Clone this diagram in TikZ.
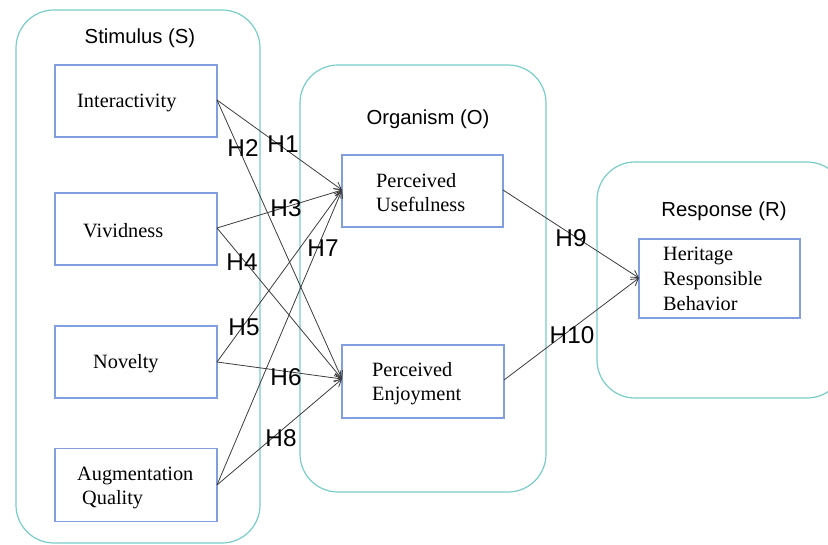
\documentclass[tikz,border=0pt]{standalone}
\usepackage{fontspec}
\setmainfont{Liberation Serif}
\newfontfamily\labfont{Liberation Sans}
\usetikzlibrary{arrows.meta}
\definecolor{contcol}{RGB}{120,205,200}
\definecolor{boxcol}{RGB}{128,158,224}
\definecolor{arrcol}{RGB}{60,60,60}
\tikzset{
  container/.style={draw=contcol, line width=1.2pt, rounded corners=38pt},
  varbox/.style={draw=boxcol, line width=1.1pt, rectangle, inner sep=0pt},
  boxtext/.style={anchor=west, align=left, inner sep=0pt, font=\fontsize{20.3}{25}\selectfont},
  title/.style={inner sep=0pt, font=\labfont\fontsize{20.3}{24}\selectfont},
  hlab/.style={inner sep=0pt, font=\labfont\fontsize{24.3}{26}\selectfont},
  rel/.style={draw=arrcol, line width=0.8pt, -{Straight Barb[length=7pt,width=8pt]}}
}
\begin{document}
\begin{tikzpicture}[x=1pt,y=-1pt]
\useasboundingbox (0,0) rectangle (828,545);
% containers
\draw[container] (16,10) rectangle (260,543);
\draw[container] (300,65) rectangle (546,492);
\draw[container] (597,162) rectangle (845,398);
% titles
\node[title] (tS) at (140,38) {Stimulus (S)};
\node[title] (tO) at (428,119) {Organism (O)};
\node[title] (tR) at (724,211) {Response (R)};
% variable boxes
\node[varbox, minimum width=162pt, minimum height=72pt] (int) at (136,101) {};
\node[varbox, minimum width=162pt, minimum height=72pt] (viv) at (136,229) {};
\node[varbox, minimum width=162pt, minimum height=72pt] (nov) at (136,362) {};
\node[varbox, minimum width=162pt, minimum height=73pt] (aug) at (136,485) {};
\node[varbox, minimum width=161pt, minimum height=72pt] (pu) at (422.5,191) {};
\node[varbox, minimum width=162pt, minimum height=73pt] (pe) at (423,381.5) {};
\node[varbox, minimum width=161pt, minimum height=79pt] (hrb) at (719.5,278.5) {};
% box texts
\node[boxtext] (intT) at (77,103) {Interactivity};
\node[boxtext] (vivT) at (83,231) {Vividness};
\node[boxtext] (novT) at (93,364) {Novelty};
\node[boxtext] (augT) at (77,488) {Augmentation\\[-1pt]\hspace*{5pt}Quality};
\node[boxtext] (puT) at (376,193) {Perceived\\[-1pt]Usefulness};
\node[boxtext] (peT) at (372,384) {Perceived\\[-1pt]Enjoyment};
\node[boxtext] (hrbT) at (663,279) {Heritage\\Responsible\\Behavior};
% anchor coordinates
\coordinate (intR) at (217,100);
\coordinate (vivR) at (217,228);
\coordinate (novR) at (217,362);
\coordinate (augR) at (217,485);
\coordinate (puL) at (342,190);
\coordinate (peL) at (342,379);
\coordinate (puR) at (503,190);
\coordinate (peR) at (504,380);
\coordinate (hrbL) at (639,278);
% relations
\draw[rel] (intR) -- (puL);
\draw[rel] (intR) -- (peL);
\draw[rel] (vivR) -- (puL);
\draw[rel] (vivR) -- (peL);
\draw[rel] (novR) -- (puL);
\draw[rel] (novR) -- (peL);
\draw[rel] (augR) -- (puL);
\draw[rel] (augR) -- (peL);
\draw[rel] (puR) -- (hrbL);
\draw[rel] (peR) -- (hrbL);
% hypothesis labels
\node[hlab] (h1) at (283,144) {H1};
\node[hlab] (h2) at (243,148) {H2};
\node[hlab] (h3) at (286,208) {H3};
\node[hlab] (h4) at (242,262) {H4};
\node[hlab] (h5) at (244,327) {H5};
\node[hlab] (h6) at (286,377) {H6};
\node[hlab] (h7) at (323,248) {H7};
\node[hlab] (h8) at (281,438) {H8};
\node[hlab] (h9) at (571,238) {H9};
\node[hlab] (h10) at (572,335) {H10};
\end{tikzpicture}
\end{document}
